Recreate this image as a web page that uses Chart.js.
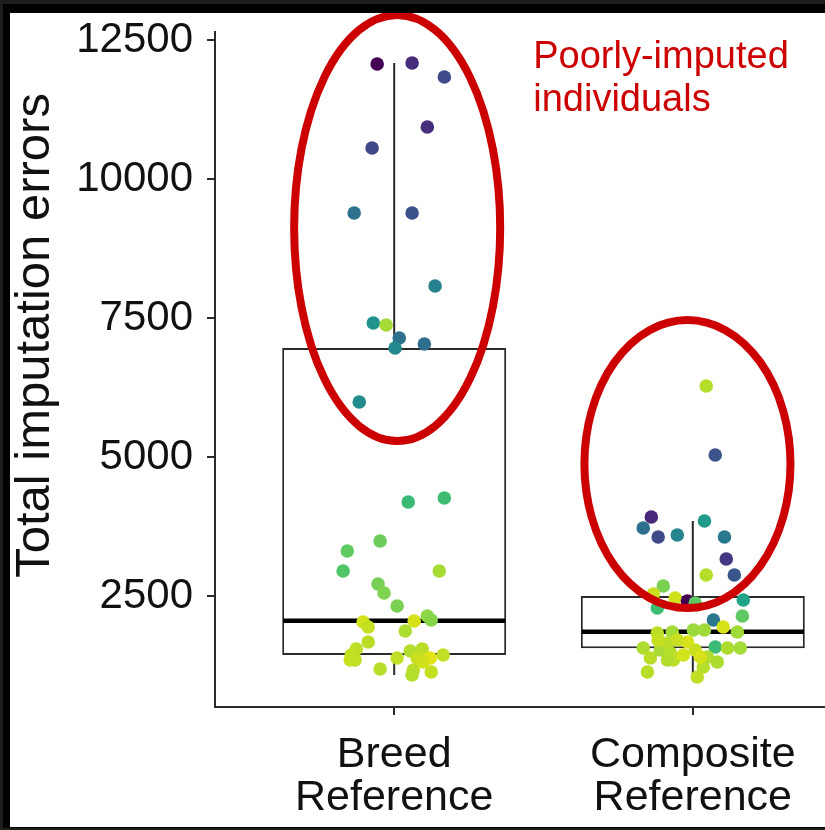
<!DOCTYPE html>
<html>
<head>
<meta charset="utf-8">
<script src="https://cdn.jsdelivr.net/npm/chart.js@4.4.1/dist/chart.umd.min.js"></script>
<style>
  html, body { margin:0; padding:0; background:#1e1e1e; overflow:hidden; width:825px; height:830px; }
  #frame { position:absolute; left:3px; top:4px; width:900px; height:824px; background:#000; }
  #paper { position:absolute; left:10px; top:13px; width:862px; height:814px; background:#fff; }
  canvas { display:block; }
</style>
</head>
<body>
<div id="frame"></div>
<div id="paper"><canvas id="c" width="862" height="814"></canvas></div>
<script>
// ---------- data ----------
const categories = [["Breed", "Reference"], ["Composite", "Reference"]];
const yTickValues = [2500, 5000, 7500, 10000, 12500];
const yTitle = "Total imputation errors";
const noteLines = ["Poorly-imputed", "individuals"];

// box plot statistics per category
const boxQ1 = [1439, 1559];
const boxMedian = [2056, 1858];
const boxQ3 = [6960, 2500];
const whiskerLow = [1079, 1050];
const whiskerHigh = [12087, 3849];

// jittered points (offset from category centre, value, colour)
const breedJitter = [-0.057, 0.060, 0.168, 0.111, -0.074, -0.134, 0.060, 0.137, -0.070, -0.027,
  0.017, 0.003, 0.101, -0.117, 0.047, 0.168, -0.047, -0.157, -0.171, 0.151,
  -0.054, -0.034, 0.010, 0.111, 0.124, -0.104, -0.087, 0.067, 0.037, -0.087,
  -0.127, -0.144, -0.147, -0.047, 0.010, 0.054, 0.094, 0.077, 0.121, 0.164,
  0.064, 0.060, 0.124, -0.131, 0.097];
const breedErrors = [12069, 12087, 11835, 10935, 10558, 9389, 9389, 8076, 7410, 7374,
  7140, 6960, 7032, 5989, 4191, 4263, 3489, 3309, 2950, 2950,
  2716, 2554, 2320, 2140, 2068, 2032, 1942, 2050, 1870, 1673,
  1547, 1439, 1349, 1187, 1385, 1511, 1547, 1385, 1385, 1439,
  1169, 1079, 1133, 1350, 1313];
const breedColors = ["#440154", "#472c7a", "#3e4c8a", "#472f7d", "#3f4788", "#2c728e", "#3b528b", "#27808e", "#20938c", "#a5db36",
  "#2d718e", "#23898e", "#2e6e8e", "#228b8d", "#3aba76", "#3fbc73", "#6ccd5a", "#60ca60", "#52c569", "#a8db34",
  "#75d054", "#7fd34e", "#7ad151", "#8ed645", "#86d549", "#d2e21b", "#c5e021", "#d8e219", "#addc30", "#bade28",
  "#bddf26", "#c0df25", "#c8e020", "#b8de29", "#c0df25", "#b2dd2d", "#bade28", "#c8e020", "#e2e418", "#c0df25",
  "#bade28", "#b5de2b", "#c5e021", "#c2df23", "#d0e11c"];

const compJitter = [0.075, -0.139, -0.166, -0.116, -0.052, 0.039, 0.106, 0.112, 0.139, 0.045,
  0.045, -0.099, -0.132, -0.059, -0.018, 0.008, -0.119, 0.169, 0.166, 0.069,
  0.102, 0.149, -0.119, -0.069, 0.002, 0.039, -0.166, -0.142, -0.109, -0.075,
  -0.065, -0.018, 0.008, 0.075, 0.116, 0.159, 0.049, 0.035, 0.082, -0.152,
  0.015, -0.085, -0.116, -0.052, -0.032, -0.085, 0.025];
const compErrors = [5036, 3921, 3723, 3561, 3597, 3849, 3561, 3165, 2878, 2878,
  6277, 2680, 2536, 2464, 2410, 2374, 2284, 2428, 2140, 2068,
  1942, 1852, 1834, 1852, 1888, 1888, 1565, 1385, 1529, 1475,
  1349, 1673, 1529, 1583, 1565, 1565, 1403, 1223, 1313, 1133,
  1043, 1655, 1709, 1709, 1439, 1349, 1403];
const compColors = ["#3b528b", "#482878", "#2d708e", "#3e4989", "#25858e", "#1f9a8a", "#2a788e", "#453781", "#3a548c", "#b5de2b",
  "#b5de2b", "#7ad151", "#c8e020", "#d0e11c", "#440154", "#5ec962", "#3fbc73", "#20a386", "#5ec962", "#2a788e",
  "#d8e219", "#a0da39", "#bade28", "#a5db36", "#9bd93c", "#a0da39", "#addc30", "#bade28", "#a8db34", "#b5de2b",
  "#bddf26", "#d8e219", "#c8e020", "#3bbb75", "#addc30", "#a5db36", "#b0dd2f", "#b5de2b", "#addc30", "#b8de29",
  "#c0df25", "#bade28", "#c5e021", "#c8e020", "#d2e21b", "#b2dd2d", "#d8e219"];

// annotation ellipses (data units)
const ellipses = [
  { cx: 1.01, cy: 9119, rx: 0.345, ry: 3831 },
  { cx: 1.982, cy: 4874, rx: 0.345, ry: 2590 }
];
const noteAnchor = { x: 1.4657, y1: 11997, y2: 11223 };

// ---------- styles ----------
const FONT = "'Liberation Sans', Arial, Helvetica, sans-serif";
const INK = "#111111";
const AXIS = "#2a2a2a";
const RED = "#cc0000";
const BOX_WIDTH = 0.75;

function points(jit, vals, center) {
  return vals.map((v, i) => ({ x: center + jit[i], y: v }));
}

const boxExtras = {
  id: 'boxExtras',
  afterDatasetDraw(chart, args) {
    const ds = chart.data.datasets[args.index];
    if (ds.type !== 'bar') return;
    const xs = chart.scales.x, ys = chart.scales.y, ctx = chart.ctx;
    ctx.save();
    ctx.lineCap = 'butt';
    for (let i = 0; i < boxQ1.length; i++) {
      const c = i + 1;
      const px = xs.getPixelForValue(c);
      ctx.strokeStyle = AXIS;
      ctx.lineWidth = 2;
      ctx.beginPath();
      ctx.moveTo(px, ys.getPixelForValue(boxQ3[i]));
      ctx.lineTo(px, ys.getPixelForValue(whiskerHigh[i]));
      ctx.moveTo(px, ys.getPixelForValue(boxQ1[i]));
      ctx.lineTo(px, ys.getPixelForValue(whiskerLow[i]));
      ctx.stroke();
      ctx.lineWidth = 4.4;
      ctx.strokeStyle = '#000';
      ctx.beginPath();
      const my = ys.getPixelForValue(boxMedian[i]);
      ctx.moveTo(xs.getPixelForValue(c - BOX_WIDTH / 2) + 1, my);
      ctx.lineTo(xs.getPixelForValue(c + BOX_WIDTH / 2) - 1, my);
      ctx.stroke();
    }
    ctx.restore();
  },
  afterDraw(chart) {
    const xs = chart.scales.x, ys = chart.scales.y, ctx = chart.ctx;
    ctx.save();
    ctx.strokeStyle = RED;
    ctx.lineWidth = 8;
    ellipses.forEach(e => {
      const cx = xs.getPixelForValue(e.cx), cy = ys.getPixelForValue(e.cy);
      const rx = Math.abs(xs.getPixelForValue(e.cx + e.rx) - cx);
      const ry = Math.abs(ys.getPixelForValue(e.cy + e.ry) - cy);
      ctx.beginPath();
      ctx.ellipse(cx, cy, rx, ry, 0, 0, Math.PI * 2);
      ctx.stroke();
    });
    ctx.fillStyle = RED;
    ctx.font = "38px " + FONT;
    ctx.textAlign = 'left';
    ctx.textBaseline = 'alphabetic';
    const tx = xs.getPixelForValue(noteAnchor.x);
    ctx.fillText(noteLines[0], tx, ys.getPixelForValue(noteAnchor.y1));
    ctx.fillText(noteLines[1], tx, ys.getPixelForValue(noteAnchor.y2));
    ctx.restore();
  }
};

new Chart(document.getElementById('c'), {
  type: 'scatter',
  data: {
    datasets: [
      {
        type: 'scatter', label: 'Breed', order: 0,
        data: points(breedJitter, breedErrors, 1),
        pointBackgroundColor: breedColors, pointBorderWidth: 0, pointRadius: 6.8, pointHoverRadius: 6.8
      },
      {
        type: 'scatter', label: 'Composite', order: 0,
        data: points(compJitter, compErrors, 2),
        pointBackgroundColor: compColors, pointBorderWidth: 0, pointRadius: 6.8, pointHoverRadius: 6.8
      },
      {
        type: 'bar', label: 'IQR', order: 1,
        data: boxQ1.map((q, i) => ({ x: i + 1, y: [q, boxQ3[i]] })),
        backgroundColor: '#ffffff', borderColor: AXIS, borderWidth: 2, borderSkipped: false,
        barPercentage: BOX_WIDTH, categoryPercentage: 1.0
      }
    ]
  },
  options: {
    responsive: false,
    animation: false,
    events: [],
    layout: { autoPadding: false, padding: { left: 0, right: 0, top: 19, bottom: 0 } },
    plugins: { legend: { display: false }, tooltip: { enabled: false } },
    scales: {
      x: {
        type: 'linear', min: 0.4, max: 2.6, offset: false,
        afterBuildTicks: s => { s.ticks = categories.map((c, i) => ({ value: i + 1 })); },
        afterFit: s => { s.height = 120; s.paddingLeft = 0; s.paddingRight = 0; },
        ticks: {
          callback: v => categories[Math.round(v) - 1],
          font: { family: FONT, size: 43, lineHeight: 1.0 },
          color: INK, padding: 18.6, maxRotation: 0, autoSkip: false
        },
        grid: { offset: false, drawOnChartArea: false, drawTicks: true, tickLength: 8, tickColor: AXIS, lineWidth: 2 },
        border: { display: true, color: AXIS, width: 2 }
      },
      y: {
        type: 'linear', min: 504, max: 12644,
        afterBuildTicks: s => { s.ticks = yTickValues.map(v => ({ value: v })); },
        afterFit: s => { s.width = 205; s.paddingTop = 0; s.paddingBottom = 0; },
        ticks: {
          callback: v => String(v),
          font: { family: FONT, size: 42, lineHeight: 1.0 },
          color: INK, padding: 14
        },
        grid: { offset: false, drawOnChartArea: false, drawTicks: true, tickLength: 8, tickColor: AXIS, lineWidth: 2 },
        border: { display: true, color: AXIS, width: 2 },
        title: {
          display: true, text: "     " + yTitle, color: INK,
          font: { family: FONT, size: 49, lineHeight: 1.0 },
          padding: { top: 1, bottom: 0 }
        }
      }
    }
  },
  plugins: [boxExtras]
});
</script>
</body>
</html>
